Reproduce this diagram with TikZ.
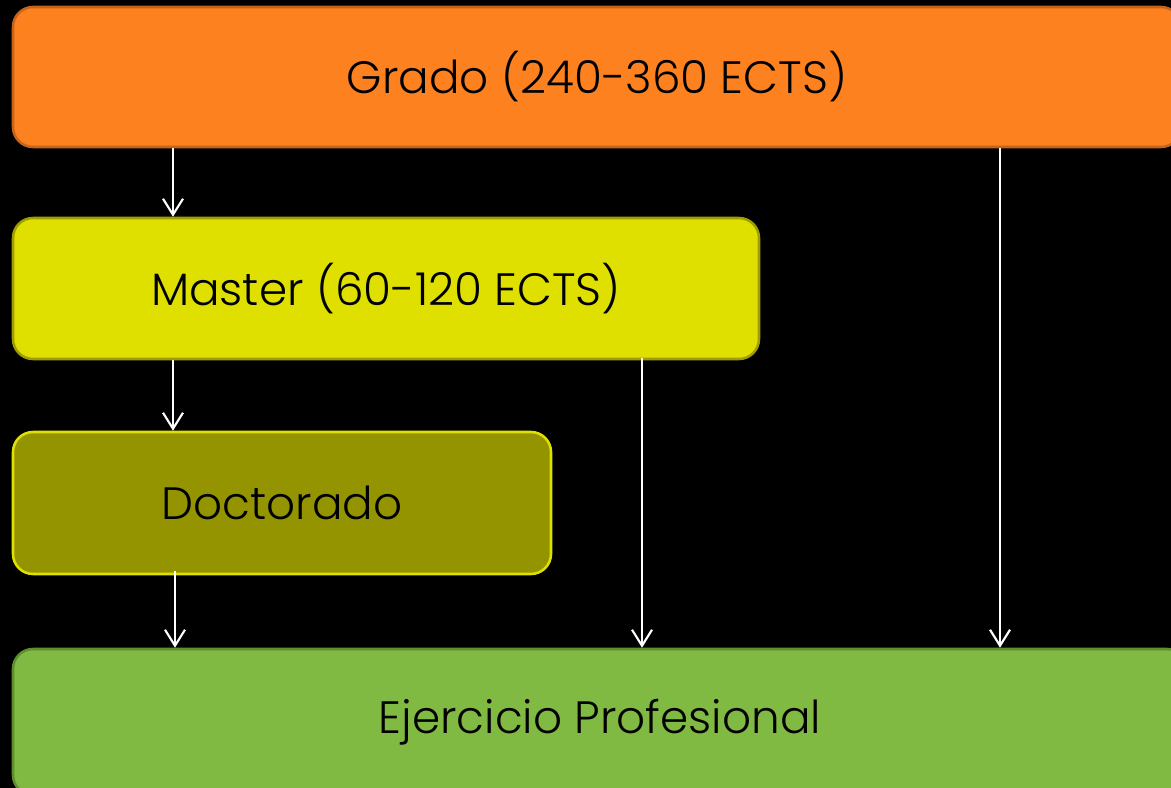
\documentclass[tikz,border=0pt]{standalone}
\usepackage{fontspec}
\setmainfont{Poppins Light}
\usetikzlibrary{arrows.meta}

\definecolor{gradoFill}{HTML}{FE8120}
\definecolor{gradoLine}{HTML}{C8641A}
\definecolor{masterFill}{HTML}{DFDF00}
\definecolor{masterLine}{HTML}{9E9E00}
\definecolor{doctFill}{HTML}{949400}
\definecolor{doctLine}{HTML}{E0E000}
\definecolor{ejerFill}{HTML}{80BA42}
\definecolor{ejerLine}{HTML}{5F8E2E}

\tikzset{
  etapa/.style={rectangle, rounded corners=15pt, line width=1.9pt, inner sep=0pt,
    font=\fontsize{34}{40}\selectfont, text=black},
  flecha/.style={draw=white, line width=1.6pt, -{Straight Barb[length=12pt,width=15pt,line width=1.6pt]}}
}

\begin{document}
\begin{tikzpicture}[x=0.75pt,y=0.75pt,yscale=-1,xscale=1]

\fill[black] (0,0) rectangle (1171,788);
\useasboundingbox (0,0) rectangle (1171,788);
\clip (0,0) rectangle (1171,788);

% etapas
\node (grado) [etapa, draw=gradoLine, fill=gradoFill, minimum width=876pt, minimum height=105pt] at (597,77) {Grado (240-360 ECTS)};

\node (master) [etapa, draw=masterLine, fill=masterFill, minimum width=559.5pt, minimum height=105.75pt] at (386,288.5) {Master (60-120 ECTS)};

\node (doct) [etapa, draw=doctLine, fill=doctFill, minimum width=403.5pt, minimum height=106.5pt] at (282,503) {Doctorado};

\node (ejer) [etapa, draw=ejerLine, fill=ejerFill, minimum width=880.5pt, minimum height=109.5pt] at (600,722) {Ejercicio Profesional};

% columnas de las flechas
\coordinate (c1) at (173,0);
\coordinate (c2) at (175,0);
\coordinate (c3) at (642,0);
\coordinate (c4) at (1000,0);

\draw[flecha] (grado.south -| c1) -- (master.north -| c1);
\draw[flecha] (master.south -| c1) -- (doct.north -| c1);
\draw[flecha] ([yshift=-3pt]doct.south -| c2) -- (ejer.north -| c2);
\draw[flecha] ([yshift=-2pt]master.south -| c3) -- (ejer.north -| c3);
\draw[flecha] (grado.south -| c4) -- (ejer.north -| c4);

\end{tikzpicture}
\end{document}
